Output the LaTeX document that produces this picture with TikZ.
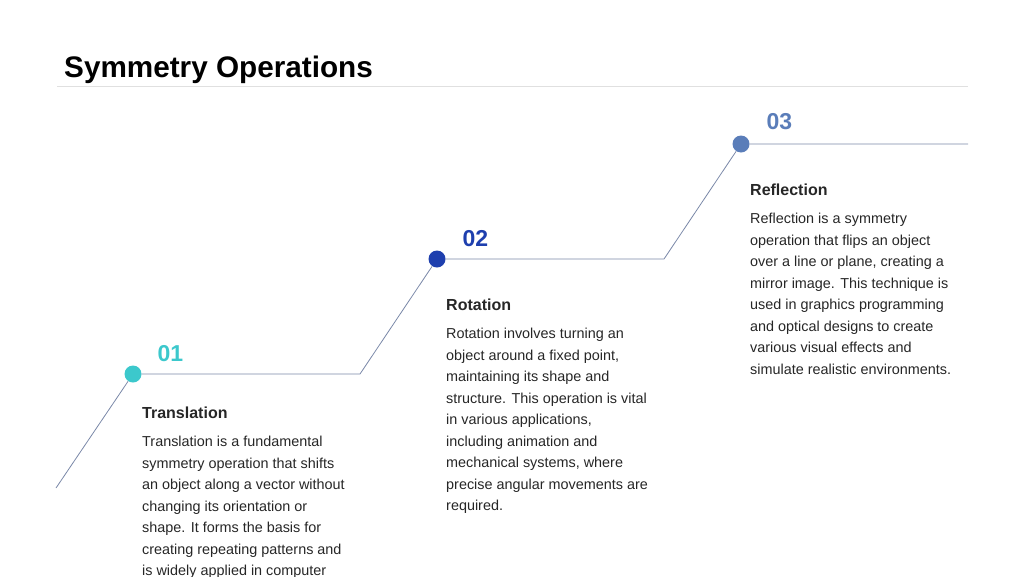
\documentclass[tikz,border=0pt]{standalone}
\usepackage{fontspec}
\setmainfont{Liberation Sans}
\usetikzlibrary{positioning}
\definecolor{tealdot}{HTML}{3CC8CC}
\definecolor{bluedot}{HTML}{1E3FAE}
\definecolor{steeldot}{HTML}{5A7DB9}
\definecolor{pathline}{HTML}{7A88A8}
\definecolor{bodytext}{HTML}{262626}
\tikzset{
  dot/.style={circle, inner sep=0pt, minimum size=17pt},
  num/.style={font=\bfseries\fontsize{23}{26}\selectfont, anchor=west},
  head/.style={font=\bfseries\fontsize{16}{19}\selectfont, text=bodytext, anchor=north west, inner sep=0pt},
  body/.style={font=\fontsize{14.4}{21.5}\selectfont, text=bodytext, align=left, anchor=north west, inner sep=0pt},
  track/.style={draw=pathline, line width=0.8pt}
}
\begin{document}
\begin{tikzpicture}[x=1pt, y=-1pt]
  \useasboundingbox (0,0) rectangle (1024,576);
  \clip (0,0) rectangle (1024,576);
  \node[anchor=base west, inner sep=0pt, font=\bfseries\fontsize{29.7}{34}\selectfont, text=black] (title) at (64,77) {Symmetry Operations};
  \draw[black!12, line width=0.8pt] (57,86) -- (968,86);

  % steps
  \coordinate (start) at (56,488);
  \node[dot, fill=tealdot] (d1) at (133,374) {};
  \coordinate (k1) at (360,374);
  \node[dot, fill=bluedot] (d2) at (437,259) {};
  \coordinate (k2) at (664,259);
  \node[dot, fill=steeldot] (d3) at (741,144) {};
  \coordinate (end) at (968,144);
  \draw[track] (start) -- (d1) -- (k1) -- (d2) -- (k2) -- (d3) -- (end);

  \node[num, text=tealdot] (n1) at (154,354) {01};
  \node[num, text=bluedot] (n2) at (459,239) {02};
  \node[num, text=steeldot] (n3) at (763,122) {03};

  \node[head] (h1) at (142,407) {Translation};
  \node[body] (b1) at (142,436) {Translation is a fundamental\\symmetry operation that shifts\\an object along a vector without\\changing its orientation or\\shape. It forms the basis for\\creating repeating patterns and\\is widely applied in computer};

  \node[head] (h2) at (446,299) {Rotation};
  \node[body] (b2) at (446,328) {Rotation involves turning an\\object around a fixed point,\\maintaining its shape and\\structure. This operation is vital\\in various applications,\\including animation and\\mechanical systems, where\\precise angular movements are\\required.};

  \node[head] (h3) at (750,184) {Reflection};
  \node[body] (b3) at (750,213) {Reflection is a symmetry\\operation that flips an object\\over a line or plane, creating a\\mirror image. This technique is\\used in graphics programming\\and optical designs to create\\various visual effects and\\simulate realistic environments.};
\end{tikzpicture}
\end{document}
